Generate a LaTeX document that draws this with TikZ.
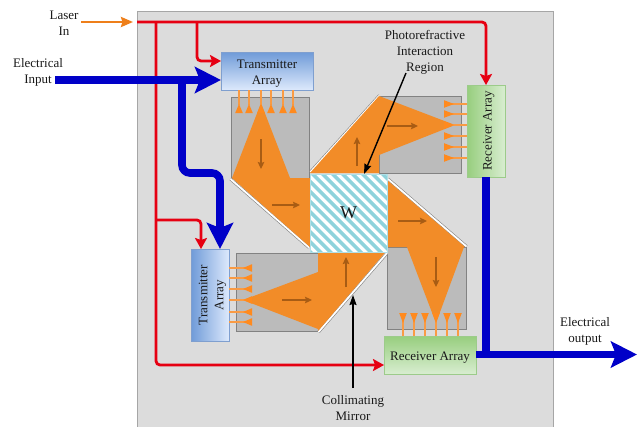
\documentclass[tikz,border=0pt]{standalone}
\usepackage{fontspec}
\setmainfont{Liberation Serif}
\usetikzlibrary{arrows.meta,calc,shadings}
\definecolor{panelgray}{HTML}{DCDCDC}
\definecolor{blockgray}{HTML}{BBBBBB}
\definecolor{blockedge}{HTML}{828282}
\definecolor{prism}{HTML}{F28C28}
\definecolor{beam}{HTML}{FF8A1E}
\definecolor{feedline}{HTML}{F99B44}
\definecolor{laserin}{HTML}{EE7F1A}
\definecolor{rayarrow}{HTML}{A85C14}
\definecolor{elec}{HTML}{0000C8}
\definecolor{laser}{HTML}{E60012}
\definecolor{teal}{HTML}{8FD3DC}
\definecolor{bluedark}{HTML}{6F9BD8}
\definecolor{bluelight}{HTML}{DDE9FC}
\definecolor{blueedge}{HTML}{7F9FCF}
\definecolor{greendark}{HTML}{97CE7E}
\definecolor{greenlight}{HTML}{D8EDD0}
\definecolor{greenedge}{HTML}{9CCB8A}
\tikzset{
 lbl/.style={font=\fontsize{13}{16}\selectfont,align=center,inner sep=0pt,text=black!90},
 boxtext/.style={font=\fontsize{13}{16}\selectfont,align=center,inner sep=0pt,text=black!90,line width=1pt,outer sep=0pt},
 bluev/.style={boxtext,draw=blueedge,top color=bluedark,bottom color=bluelight},
 blueh/.style={boxtext,draw=blueedge,left color=bluedark,right color=bluelight},
 greenv/.style={boxtext,draw=greenedge,top color=greendark,bottom color=greenlight},
 greenh/.style={boxtext,draw=greenedge,left color=greendark,right color=greenlight},
 block/.style={fill=blockgray,draw=blockedge,line width=0.8pt},
 prismfill/.style={fill=prism},
 elecline/.style={draw=elec,line width=7.6pt},
 elecarrow/.style={elecline,-{Stealth[length=26pt,width=26pt,inset=5pt]}},
 laserline/.style={draw=laser,line width=2.8pt,rounded corners=4pt},
 laserarrow/.style={laserline,-{Stealth[length=11pt,width=12pt,inset=2pt]}},
 ray/.style={draw=rayarrow,line width=1.2pt,-{Stealth[length=7pt,width=6.5pt,inset=1pt]}},
 feed/.style={draw=feedline,line width=1.3pt},
 note/.style={draw=black,line width=1.4pt,-{Stealth[length=10pt,width=7pt,inset=1pt]}},
}
\newcommand{\mirrorline}[2]{\draw[blockedge,line width=3pt] #1 -- #2; \draw[white,line width=1.8pt] #1 -- #2;}
\newcommand{\twolines}[2]{\raisebox{-5.2pt}[16pt][16pt]{\begin{tabular}{@{}c@{}}#1\\#2\end{tabular}}}
\newcommand{\oneline}[1]{\raisebox{-5.5pt}[10pt][10pt]{#1}}
\begin{document}
\begin{tikzpicture}[x=1pt,y=-1pt]
\useasboundingbox (0,0) rectangle (644,426);
\fill[white] (0,0) rectangle (644,426);
\filldraw[fill=panelgray,draw=black!35,line width=1pt] (137,11.5) rectangle (553,427);

% grey blocks
\filldraw[block] (231,97) rectangle (309,178);
\filldraw[block] (379,96) rectangle (461,173);
\filldraw[block] (387,247) rectangle (466,329);
\filldraw[block] (236,253) rectangle (318,331);

% mirrors
\mirrorline{(230.5,179)}{(309,247.5)}
\mirrorline{(310.5,172)}{(379.5,95.5)}
\mirrorline{(388,179)}{(466.5,246.5)}
\mirrorline{(387,253)}{(318.5,332)}

% orange light
\fill[prismfill] (261,103) -- (290,178) -- (232,178) -- cycle;
\fill[prismfill] (232,178) -- (310,178) -- (310,247) -- cycle;
\fill[prismfill] (310,173) -- (379,96) -- (379,173) -- cycle;
\fill[prismfill] (379,96) -- (455,125) -- (379,155) -- cycle;
\fill[prismfill] (387,180) -- (465,247) -- (387,247) -- cycle;
\fill[prismfill] (407,247) -- (464,247) -- (436,323) -- cycle;
\fill[prismfill] (318,252) -- (385.5,252) -- (318,331) -- cycle;
\fill[prismfill] (318,272) -- (318,329) -- (243,300) -- cycle;

% W region
\begin{scope}
\clip (310,174) rectangle (387,252);
\fill[white] (310,174) rectangle (387,252);
\foreach \k in {-10,...,8}
 \fill[teal] ({310+\k*10},174) -- ++(5,0) -- ++(90,90) -- ++(-5,0) -- cycle;
\end{scope}
\draw[teal!70,line width=0.5pt] (310,174) rectangle (387,252);
\node[font=\fontsize{18}{20}\selectfont,inner sep=0pt,text=black!90] (w) at (348.5,213) {W};

% boxes
\node[bluev,minimum width=92pt,minimum height=38pt] (txtop) at (267,71) {\twolines{Transmitter}{Array}};
\node[blueh,minimum width=38pt,minimum height=92pt] (txleft) at (210,295) {\rotatebox{90}{\twolines{Transmitter}{Array}}};
\node[greenh,minimum width=38pt,minimum height=92pt] (rxright) at (486,131) {\rotatebox{90}{\oneline{Receiver Array}}};
\node[greenv,minimum width=92pt,minimum height=38pt] (rxbottom) at (430,355) {\oneline{Receiver Array}};

% beam feeds: small triangles point toward the array
\foreach \x in {239,249,261,271,283,293} {
 \draw[feed] (\x,0 |- txtop.south) -- (\x,105);
 \fill[beam] (\x,104) -- (\x+3.8,113) -- (\x-3.8,113) -- cycle;}
\foreach \x in {403,414,425,436,447,458} {
 \draw[feed] (\x,0 |- rxbottom.north) -- (\x,321);
 \fill[beam] (\x,323) -- (\x+3.8,313) -- (\x-3.8,313) -- cycle;}
\foreach \y in {104,114,125,136,147,158} {
 \draw[feed] (0,\y -| rxright.west) -- (452,\y);
 \fill[beam] (454,\y) -- (444,\y+3.8) -- (444,\y-3.8) -- cycle;}
\foreach \y in {268,278,289,300,312,322} {
 \draw[feed] (0,\y -| txleft.east) -- (245,\y);
 \fill[beam] (243,\y) -- (252,\y+3.8) -- (252,\y-3.8) -- cycle;}

% internal rays
\draw[ray] (261,139) -- (261,169);
\draw[ray] (272,205) -- (300,205);
\draw[ray] (387,126) -- (418,126);
\draw[ray] (357,166) -- (357,137);
\draw[ray] (398,221) -- (427,221);
\draw[ray] (436,257) -- (436,287);
\draw[ray] (282,300) -- (312,300);
\draw[ray] (346,287) -- (346,257);

% labels
\node[lbl] (laserlbl) at (64,23.5) {Laser\\In};
\node[lbl] (elecin) at (38,72) {Electrical\\Input};
\node[lbl] (photo) at (425,52.5) {Photorefractive\\Interaction\\Region};
\node[lbl] (collim) at (353,408) {Collimating\\Mirror};
\node[lbl] (elecout) at (585,331) {Electrical\\output};

% named ends
\coordinate (laserbus) at (137,22);
\coordinate (laserstart) at (81,22);
\coordinate (lasertip) at (133,22);
\coordinate (busA) at (156,22);
\coordinate (busB) at (197,22);
\coordinate (busC) at (486,22);
\coordinate (elecstart) at (55,80);
\coordinate (elecbranch) at (182,80);
\coordinate (rxjoin) at (486,354.5);
\coordinate (outtip) at (637,354.5);
\coordinate (wtop) at (364,174);
\coordinate (mirrorpt) at (353,295);

% laser
\draw[draw=laserin,line width=2.6pt,-{Stealth[length=12pt,width=10pt,inset=1.5pt]}] (laserstart) -- (lasertip);
\draw[laserarrow] (laserbus) -- (busC) -- (rxright.north);
\draw[laserarrow] (busB) -- (197,61) -- (txtop.west |- 0,61);
\draw[laserarrow] (busA) -- (156,365) -- (rxbottom.west |- 0,365);
\draw[laserarrow] (156,220) -- (201,220) -- (201,0 |- txleft.north);

% electrical
\draw[elecline,rounded corners=8pt] (elecbranch) -- (182,173) -- (220,173) -- (220,225);
\draw[elecarrow] (220,215) -- (220,0 |- txleft.north);
\draw[elecarrow] (elecstart) -- (elecbranch) -- (txtop.west |- elecbranch);
\draw[elecline] (rxright.south) -- (rxjoin);
\draw[elecarrow] (rxbottom.east |- rxjoin) -- (outtip);

% callouts
\draw[note] (406,73) -- (wtop);
\draw[note] (353,388) -- (mirrorpt);
\end{tikzpicture}
\end{document}
